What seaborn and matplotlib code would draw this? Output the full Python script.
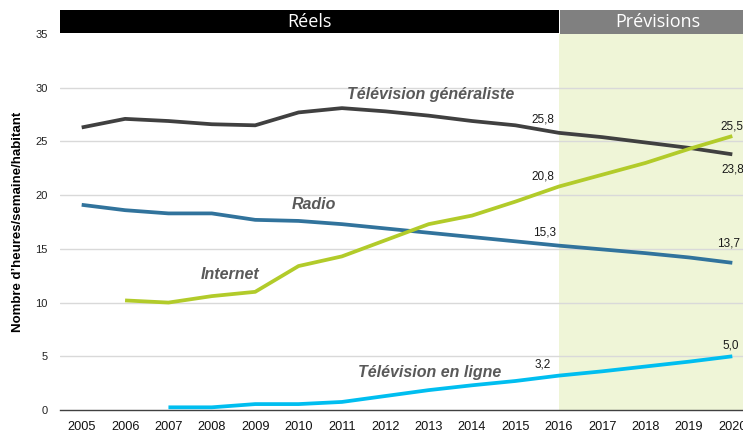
import matplotlib
matplotlib.use("Agg")
import matplotlib.pyplot as plt
import seaborn as sns
import pandas as pd
import numpy as np
from matplotlib.patches import Rectangle

years = list(range(2005, 2021))
tv_generaliste = [26.3, 27.1, 26.9, 26.6, 26.5, 27.7, 28.1, 27.8, 27.4, 26.9, 26.5, 25.8, 25.4, 24.9, 24.4, 23.8]
radio = [19.1, 18.6, 18.3, 18.3, 17.7, 17.6, 17.3, 16.9, 16.5, 16.1, 15.7, 15.3, 14.95, 14.6, 14.2, 13.7]
internet = [None, 10.2, 10.0, 10.6, 11.0, 13.4, 14.3, 15.8, 17.3, 18.1, 19.4, 20.8, 21.9, 23.0, 24.3, 25.5]
tv_en_ligne = [None, None, 0.25, 0.25, 0.55, 0.55, 0.75, 1.3, 1.85, 2.3, 2.7, 3.2, 3.6, 4.05, 4.5, 5.0]

series_names = ["Télévision généraliste", "Radio", "Internet", "Télévision en ligne"]
series_values = [tv_generaliste, radio, internet, tv_en_ligne]
colors = ["#404040", "#31739C", "#B2CB2A", "#00BEF0"]

# value labels: (year, text, dx px, dy px)
ann_labels = {
    "Télévision généraliste": [(2016, "25,8", -16, 13), (2020, "23,8", 0, -15)],
    "Radio": [(2016, "15,3", -14, 13), (2020, "13,7", -4, 19)],
    "Internet": [(2016, "20,8", -16, 10), (2020, "25,5", 0, 10)],
    "Télévision en ligne": [(2016, "3,2", -16, 11), (2020, "5,0", -2, 11)],
}
series_label_pos = {
    "Télévision généraliste": (2013.05, 29.35),
    "Radio": (2010.36, 19.1),
    "Internet": (2008.42, 12.57),
    "Télévision en ligne": (2013.03, 3.45),
}

rows = []
for name, vals in zip(series_names, series_values):
    for y, v in zip(years, vals):
        if v is not None:
            rows.append({"year": y, "value": v, "serie": name})
df = pd.DataFrame(rows)

sns.set_theme(style="white")
plt.rcParams["font.family"] = ["Liberation Sans", "DejaVu Sans"]

fig = plt.figure(figsize=(7.43, 4.34), dpi=100)
W, H = 743, 434
x0, x1 = 60, 754
y0, y1 = 410, 34
ax = fig.add_axes([x0 / W, (H - y0) / H, (x1 - x0) / W, (y0 - y1) / H])
ax.set_xlim(2004.5, 2020.5)
ax.set_ylim(0, 35)

# forecast shading
ax.axvspan(2016, 2020.5, ymin=0, ymax=1, color="#EFF5D7", zorder=0, lw=0)

# grid
for g in [5, 10, 15, 20, 25, 30]:
    ax.axhline(g, color="#D9D9D9", lw=1.0, zorder=1)

sns.lineplot(data=df, x="year", y="value", hue="serie", hue_order=series_names,
             palette=colors, linewidth=2.7, legend=False, ax=ax, zorder=3,
             solid_capstyle="butt")

for name, c in zip(series_names, colors):
    vals = series_values[series_names.index(name)]
    for (yr, txt, dx, dy) in ann_labels[name]:
        v = vals[years.index(yr)]
        ax.annotate(txt, (yr, v), xytext=(dx * 0.72, dy * 0.72), textcoords="offset points",
                    ha="center", va="center", fontsize=8.5, color="#1a1a1a")
    lx, ly = series_label_pos[name]
    ax.text(lx, ly, name, fontsize=11.5, fontweight="bold", fontstyle="italic",
            color="#595959", ha="center", va="center")

# banner
top = 35 + 24 / 10.74
ax.add_patch(Rectangle((2004.5, 35.1), 2016 - 2004.5, top - 35.1, transform=ax.transData,
                       facecolor="black", edgecolor="none", clip_on=False, zorder=5))
ax.add_patch(Rectangle((2016.03, 35.0), 2020.5 - 2016.03, top - 35.0, transform=ax.transData,
                       facecolor="#808080", edgecolor="none", clip_on=False, zorder=5))
mid = 35 + (top - 35) / 2
ax.text(2010.26, mid, "Réels", color="white", fontsize=13, ha="center", va="center",
        family=["Open Sans", "DejaVu Sans"], zorder=6, clip_on=False)
ax.text(2018.29, mid, "Prévisions", color="white", fontsize=13, ha="center", va="center",
        family=["Open Sans", "DejaVu Sans"], zorder=6, clip_on=False)

# axes styling
for s in ["left", "right", "top"]:
    ax.spines[s].set_visible(False)
ax.spines["bottom"].set_color("#404040")
ax.spines["bottom"].set_linewidth(1.0)
ax.set_yticks([0, 5, 10, 15, 20, 25, 30, 35])
ax.set_yticklabels(["0", "5", "10", "15", "20", "25", "30", "35"], fontsize=8, color="#222222")
ax.tick_params(axis="y", length=0, pad=9)
ax.set_xticks(years)
ax.set_xticklabels([str(y) for y in years], fontsize=9.2, color="#111111")
ax.set_xticks(np.arange(2004.5, 2020.6, 1.0), minor=True)
ax.tick_params(axis="x", which="major", length=0, pad=8)
ax.tick_params(axis="x", which="minor", length=4, width=1.0, color="#404040", direction="out")
ax.set_xlabel("")
ax.set_ylabel("Nombre d\u2019heures/semaine/habitant", fontsize=9.5, fontweight="bold", color="black", labelpad=8)

fig.savefig("out.png", dpi=100)
